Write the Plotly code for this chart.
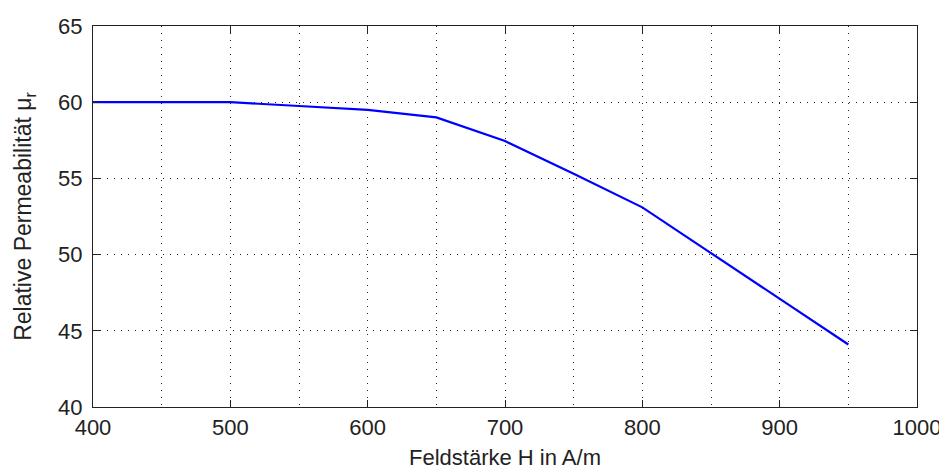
import plotly.graph_objects as go

H = [400, 450, 500, 550, 600, 650, 700, 750, 800, 850, 900, 950]
mu_r = [60.0, 60.0, 60.0, 59.75, 59.5, 59.0, 57.45, 55.3, 53.1, 50.1, 47.1, 44.1]

x_ticks = [400, 500, 600, 700, 800, 900, 1000]
y_ticks = [40, 45, 50, 55, 60, 65]

FONT = "Liberation Sans, Arial, sans-serif"
DOT = "1px,6px"

fig = go.Figure()
fig.add_trace(go.Scatter(x=H, y=mu_r, mode="lines",
                         line=dict(color="#0000ff", width=2.2),
                         showlegend=False, hoverinfo="x+y"))

axis_common = dict(
    showline=True, linecolor="#222", linewidth=1.3, mirror="ticks",
    ticks="inside", ticklen=7, tickwidth=1.3, tickcolor="#222",
    showgrid=True, gridcolor="#222", gridwidth=1, griddash=DOT,
    zeroline=False, automargin=False,
    tickfont=dict(family=FONT, size=22, color="#222"),
)

fig.update_xaxes(
    range=[400, 1000], tickvals=x_ticks, ticktext=[str(v) for v in x_ticks],
    minor=dict(dtick=50, tick0=400, showgrid=True, gridcolor="#222", gridwidth=1,
               griddash=DOT, ticks=""),
    title=dict(text="Feldstärke H in A/m", font=dict(family=FONT, size=22, color="#222"),
               standoff=17),
    ticklabelstandoff=0,
    **axis_common,
)
fig.update_yaxes(
    range=[40, 65], tickvals=y_ticks, ticktext=[str(v) for v in y_ticks],
    title=dict(text="Relative Permeabilität μ<sub>r</sub>",
               font=dict(family=FONT, size=23, color="#222"), standoff=19),
    ticklabelstandoff=5,
    **axis_common,
)

# page body has an 8px default margin, so the figure is shrunk by that amount
fig.update_layout(
    width=939, height=462,
    margin=dict(l=85, r=30, t=18, b=63),
    paper_bgcolor="white", plot_bgcolor="white",
    font=dict(family=FONT),
)

fig.write_html("out.html")
